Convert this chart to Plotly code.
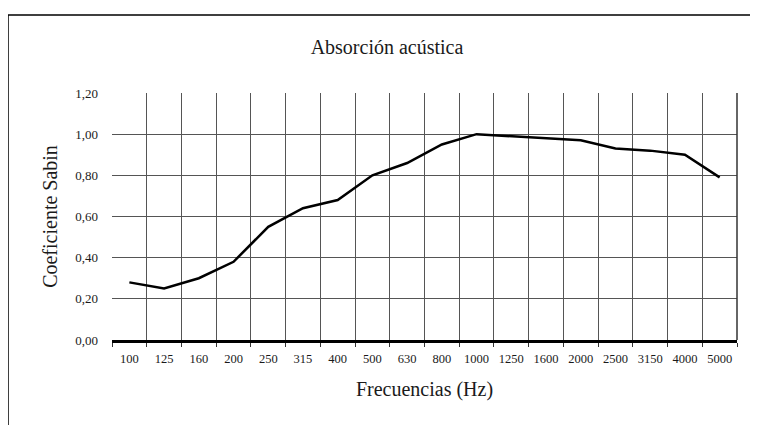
import plotly.graph_objects as go

frequencies = ["100", "125", "160", "200", "250", "315", "400", "500", "630", "800",
               "1000", "1250", "1600", "2000", "2500", "3150", "4000", "5000"]
sabin = [0.28, 0.25, 0.30, 0.38, 0.55, 0.64, 0.68, 0.80, 0.86, 0.95,
         1.00, 0.99, 0.98, 0.97, 0.93, 0.92, 0.90, 0.79]
y_ticks = [0.0, 0.2, 0.4, 0.6, 0.8, 1.0, 1.2]
y_labels = ["0,00", "0,20", "0,40", "0,60", "0,80", "1,00", "1,20"]

FONT = "Liberation Serif"
W, H = 758, 425
OFF = 8  # page body offset of the rendered figure
ML, MT = 112 - OFF, 93 - OFF
PW, PH = 625, 247
MR, MB = W - ML - PW, H - MT - PH

fig = go.Figure()
fig.add_trace(go.Scatter(x=frequencies, y=sabin, mode="lines",
                         line=dict(color="black", width=2.5), hoverinfo="x+y"))

fig.update_layout(
    width=W, height=H,
    margin=dict(l=ML, r=MR, t=MT, b=MB),
    paper_bgcolor="white", plot_bgcolor="white",
    showlegend=False,
    font=dict(family=FONT, color="#1a1a1a"),
    title=dict(text="Absorción acústica", x=(387 - OFF) / W, xref="container", xanchor="center",
               y=1 - (47 - OFF) / H, yref="container", yanchor="middle",
               font=dict(family=FONT, size=20, color="#1a1a1a")),
    xaxis=dict(
        type="category", tickson="boundaries", ticks="outside", ticklen=4,
        tickcolor="#333333", tickwidth=1, ticklabelstandoff=5,
        showgrid=True, gridcolor="#555555", gridwidth=1.2,
        showline=True, linecolor="black", linewidth=2.5, mirror=False,
        tickfont=dict(family=FONT, size=12.5, color="#1a1a1a"),
        title=dict(text="Frecuencias (Hz)", standoff=18,
                   font=dict(family=FONT, size=20, color="#1a1a1a")),
        range=[-0.5, len(frequencies) - 0.5],
    ),
    yaxis=dict(
        range=[0, 1.2], tickvals=y_ticks, ticktext=y_labels,
        showgrid=True, gridcolor="#555555", gridwidth=1.2,
        zeroline=False, showline=False, ticks="", ticklen=0, ticklabelstandoff=13,
        tickfont=dict(family=FONT, size=13, color="#1a1a1a"),
        title=dict(text="Coeficiente Sabin", standoff=12,
                   font=dict(family=FONT, size=20, color="#1a1a1a")),
    ),
)

# outer chart frame (left and top edges)
x_left = (8 - OFF - ML) / PW
x_right = (W + 2 - ML) / PW
y_top = (H - MB - (15 - OFF)) / PH
y_bottom = (H - MB - (H + 2)) / PH
fig.add_shape(type="path", xref="paper", yref="paper",
              path=f"M {x_left} {y_bottom} L {x_left} {y_top} L {x_right} {y_top}",
              line=dict(color="black", width=1.5), layer="above")
# right edge of the plot area
fig.add_shape(type="line", xref="paper", yref="paper", x0=1, x1=1, y0=0, y1=1,
              line=dict(color="#333333", width=1.5))

fig.write_html("out.html")
